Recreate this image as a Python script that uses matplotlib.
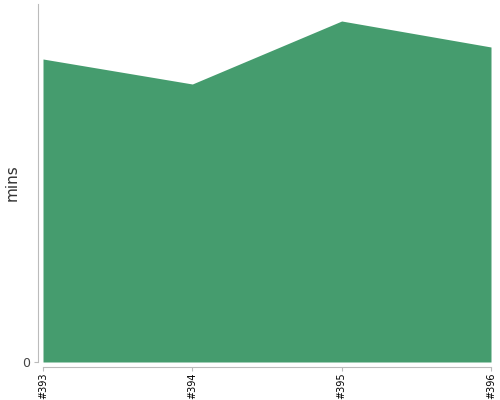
import matplotlib
matplotlib.use('Agg')
import matplotlib.pyplot as plt

labels = ['#393', '#394', '#395', '#396']
mins = [303, 278, 341, 315]

fig = plt.figure(figsize=(5, 4), dpi=100)
ax = fig.add_axes([0.086, 0.095, 0.896, 0.895])

x = range(len(labels))
ax.fill_between(x, mins, 0, color='#459c6e', linewidth=0)
ax.set_xlim(0, len(labels) - 1)
ax.set_ylim(0, 358)

ax.set_xticks(list(x))
ax.set_xticklabels(labels)
ax.set_yticks([0])
ax.tick_params(axis='x', length=3, width=0.8, color='#bbbbbb', labelcolor='black',
               labelsize=7, labelrotation=90, pad=1)
ax.tick_params(axis='y', length=3, width=0.8, color='#bbbbbb', labelcolor='#444444',
               labelsize=9, pad=3)
ax.set_ylabel('mins', fontsize=11, color='#333333')
ax.yaxis.set_label_coords(-0.053, 0.5)

for s in ['top', 'right']:
    ax.spines[s].set_visible(False)
for s in ['left', 'bottom']:
    ax.spines[s].set_color('#bbbbbb')
    ax.spines[s].set_position(('outward', 3.5))

fig.savefig('out.png', dpi=100)
